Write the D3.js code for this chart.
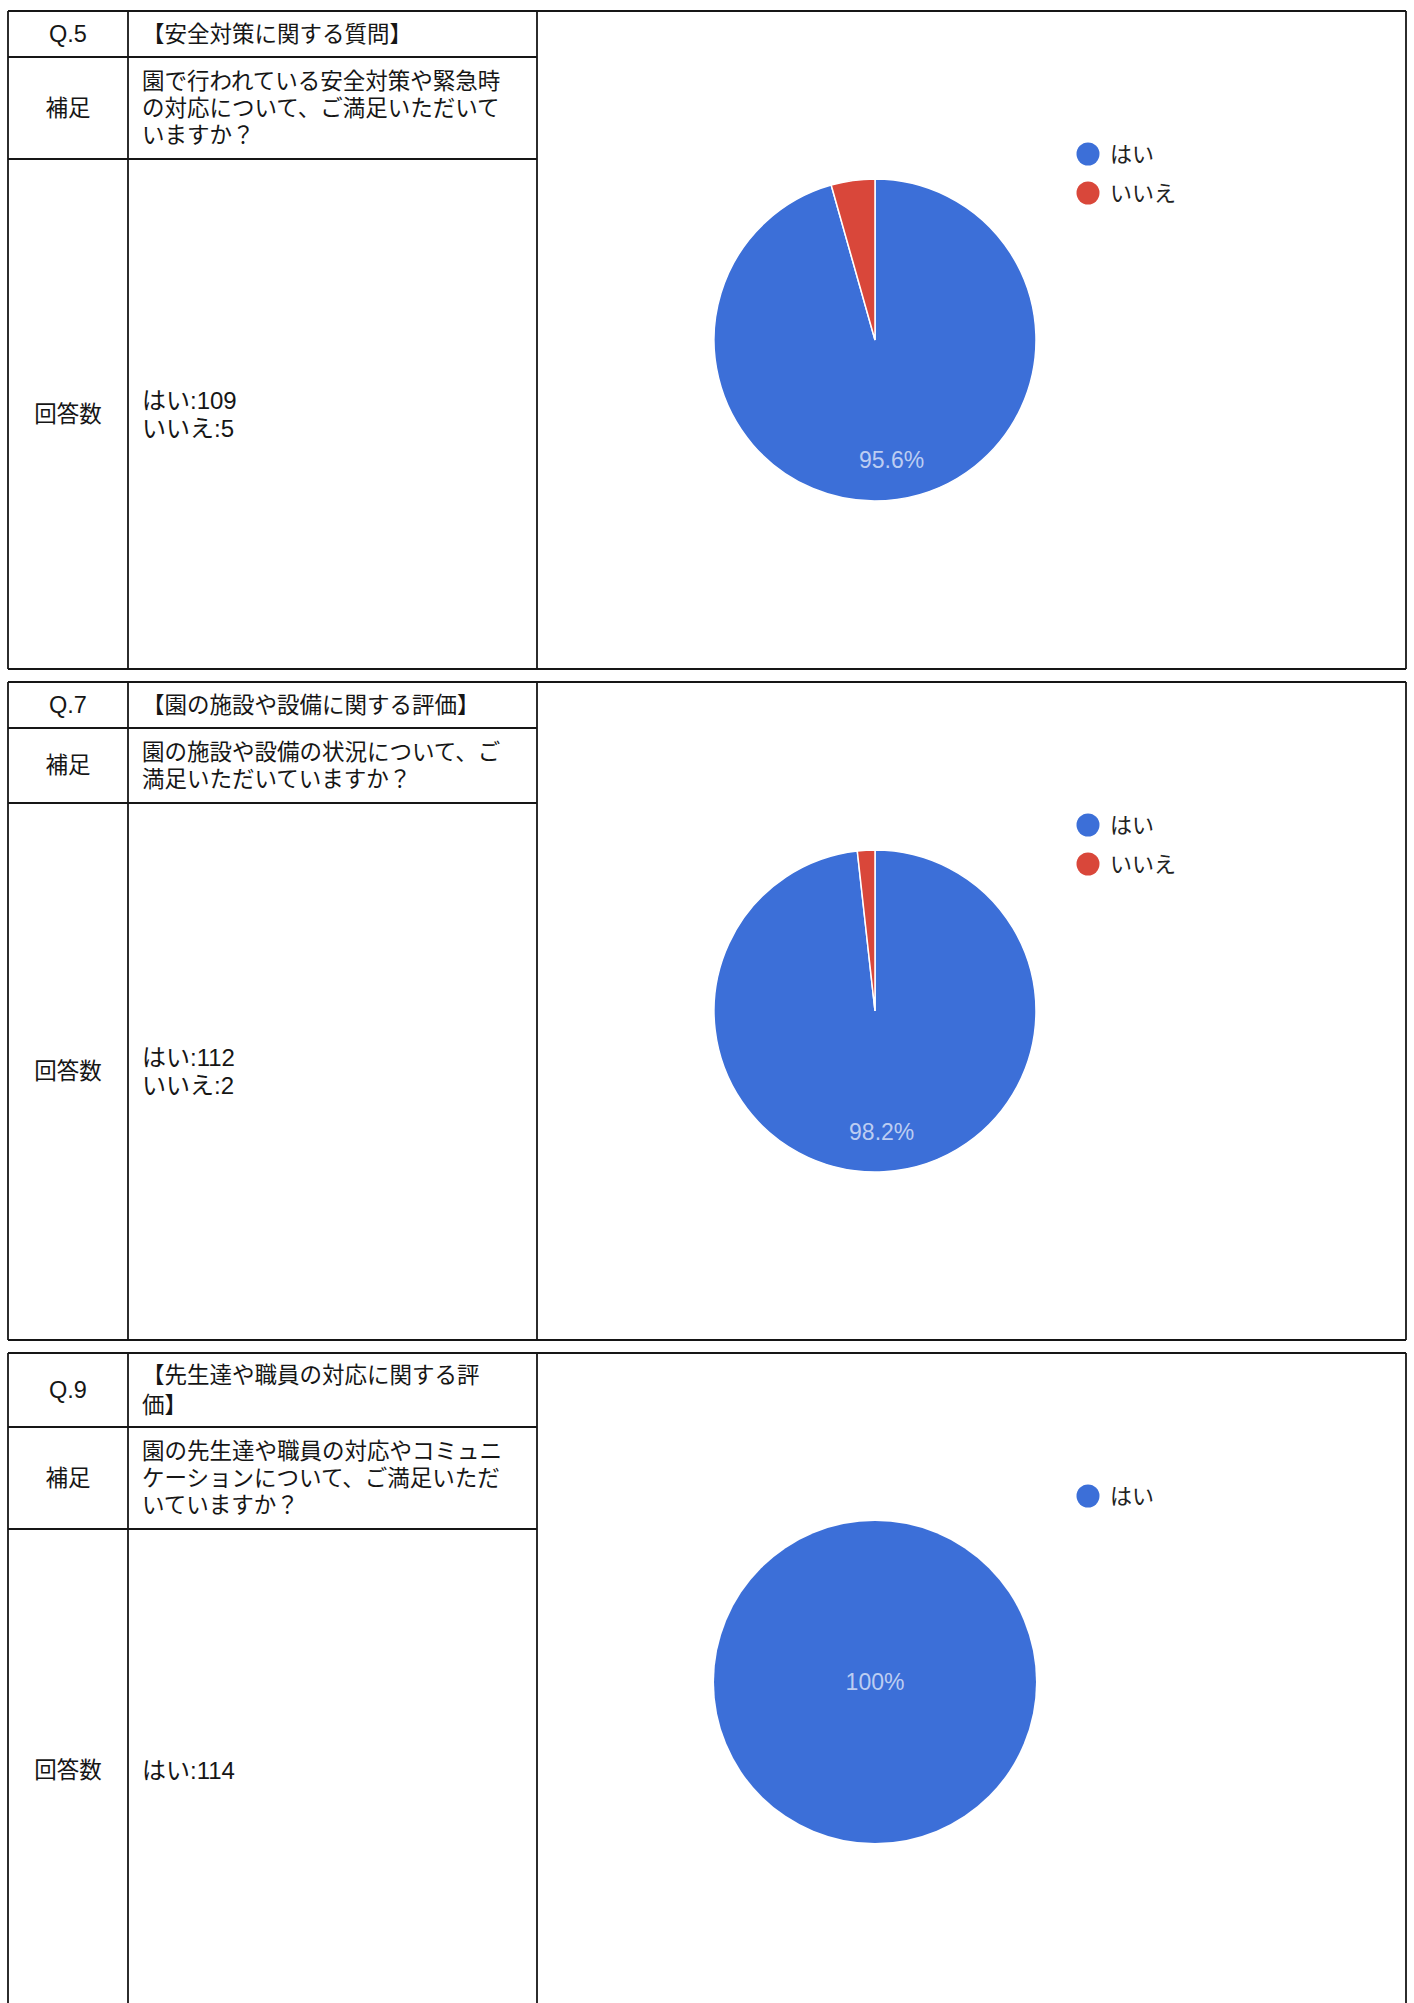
<!DOCTYPE html>
<html>
<head>
<meta charset="utf-8">
<script src="https://cdn.jsdelivr.net/npm/d3@7"></script>
<style>
	body { margin: 0; background: #fff; }
	svg { display: block; }
</style>
</head>
<body>
<svg id="chart" width="1414" height="2003"></svg>
<script>
// Survey data, one entry per question block
const questionIds = ["Q.5", "Q.7", "Q.9"];
const titleLines = [
	["【安全対策に関する質問】"],
	["【園の施設や設備に関する評価】"],
	["【先生達や職員の対応に関する評", "価】"],
];
const noteLines = [
	["園で行われている安全対策や緊急時", "の対応について、ご満足いただいて", "いますか？"],
	["園の施設や設備の状況について、ご", "満足いただいていますか？"],
	["園の先生達や職員の対応やコミュニ", "ケーションについて、ご満足いただ", "いていますか？"],
];
const answerNames = ["はい", "いいえ"];
const yesCounts = [109, 112, 114];
const noCounts = [5, 2, 0];
const rowLabels = ["補足", "回答数"];
const sliceColors = ["#3c6fd8", "#d9473a"];

const svg = d3.select("#chart");
const font = "'Liberation Sans', 'Noto Sans CJK JP', sans-serif";
const ink = "#161616";

// Layout
const left = 8, colDiv = 128, tableRight = 537, right = 1406;
const firstTop = 11, blockPitch = 671, blockH = 658;
const textX = 142, lineH = 27;
const r = 161;

const pct = d3.format(".3~p");
const color = d3.scaleOrdinal().domain(answerNames).range(sliceColors);

questionIds.forEach((qid, i) => {
	const top = firstTop + i * blockPitch;
	const bottom = top + blockH;
	const row1 = top + titleLines[i].length * 28 + 18;
	const row2 = row1 + noteLines[i].length * 27 + 21;

	const g = svg.append("g");

	// Table and chart frame
	const lines = [
		[left, top, right, top],
		[left, bottom, right, bottom],
		[left, top, left, bottom],
		[colDiv, top, colDiv, bottom],
		[tableRight, top, tableRight, bottom],
		[right, top, right, bottom],
		[left, row1, tableRight, row1],
		[left, row2, tableRight, row2],
	];
	g.selectAll("line")
		.data(lines)
		.join("line")
		.attr("x1", (d) => d[0])
		.attr("y1", (d) => d[1])
		.attr("x2", (d) => d[2])
		.attr("y2", (d) => d[3])
		.attr("stroke", ink)
		.attr("stroke-width", 1.8);

	const txt = g.append("g")
		.style("font-family", font)
		.style("font-size", "22.5px")
		.attr("fill", ink);

	const colMid = (left + colDiv) / 2;
	txt.append("text").attr("x", colMid).attr("y", (top + row1) / 2)
		.attr("text-anchor", "middle").attr("dominant-baseline", "central")
		.style("font-size", "23.5px").text(qid);
	txt.append("text").attr("x", colMid).attr("y", (row1 + row2) / 2)
		.attr("text-anchor", "middle").attr("dominant-baseline", "central").text(rowLabels[0]);
	txt.append("text").attr("x", colMid).attr("y", (row2 + bottom) / 2)
		.attr("text-anchor", "middle").attr("dominant-baseline", "central").text(rowLabels[1]);

	// multi-line text centered in a row
	const block = (arr, y0, y1, step, size) => {
		const mid = (y0 + y1) / 2;
		txt.append("g").selectAll("text")
			.data(arr)
			.join("text")
			.attr("x", textX)
			.attr("y", (d, k) => mid + (k - (arr.length - 1) / 2) * step)
			.attr("dominant-baseline", "central")
			.style("font-size", size)
			.text((d) => d);
	};
	block(titleLines[i], top, row1, 30, "22.5px");
	block(noteLines[i], row1, row2, lineH, "22.5px");

	const counts = [yesCounts[i], noCounts[i]];
	const slices = answerNames
		.map((name, k) => ({ name, value: counts[k] }))
		.filter((d) => d.value > 0);
	block(slices.map((d) => `${d.name}:${d.value}`), row2, bottom, 28, "24px");

	// Pie
	const cx = tableRight + 338, cy = top + 329;
	const total = d3.sum(slices, (d) => d.value);
	const pie = d3.pie().sort(null).value((d) => d.value);
	const arc = d3.arc().innerRadius(0).outerRadius(r);
	const labelArc = d3.arc().innerRadius(r * 0.75).outerRadius(r * 0.75);
	const arcs = pie(slices);

	const pg = g.append("g").attr("transform", `translate(${cx},${cy})`);
	pg.selectAll("path")
		.data(arcs)
		.join("path")
		.attr("d", arc)
		.attr("fill", (d) => color(d.data.name))
		.attr("stroke", arcs.length > 1 ? "#fff" : "none")
		.attr("stroke-width", 1.5);

	pg.selectAll("text")
		.data(arcs.filter((d) => d.data.value / total >= 0.05))
		.join("text")
		.attr("transform", (d) => arcs.length > 1 ? `translate(${labelArc.centroid(d)})` : null)
		.attr("text-anchor", "middle")
		.attr("dominant-baseline", "central")
		.style("font-family", "'Liberation Sans', Arial, sans-serif")
		.style("font-size", "23px")
		.attr("fill", "#bccdf2")
		.text((d) => pct(d.data.value / total));

	// Legend
	const lg = g.append("g").attr("transform", `translate(1088,${top + 143})`);
	const item = lg.selectAll("g")
		.data(slices)
		.join("g")
		.attr("transform", (d, k) => `translate(0,${k * 39})`);
	item.append("circle").attr("r", 11.5).attr("fill", (d) => color(d.name));
	item.append("text")
		.attr("x", 22)
		.attr("dominant-baseline", "central")
		.style("font-family", font)
		.style("font-size", "22px")
		.attr("fill", "#222")
		.text((d) => d.name);
});
</script>
</body>
</html>
